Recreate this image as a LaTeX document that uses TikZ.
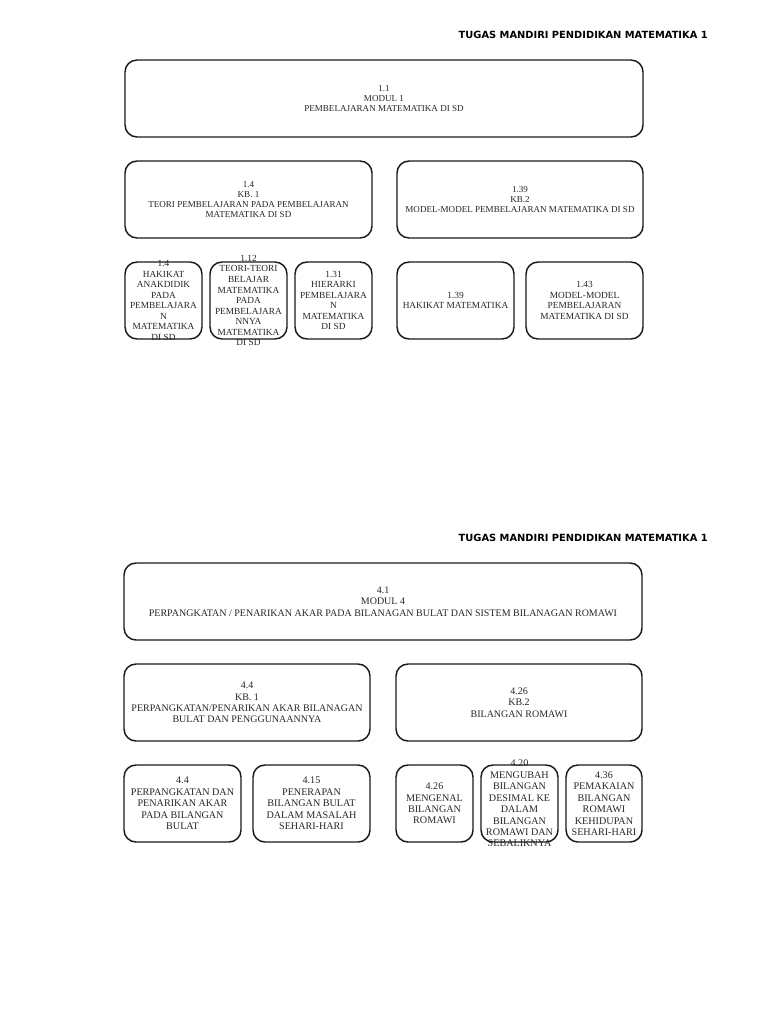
\documentclass[tikz,border=0pt]{standalone}
\usepackage{fontspec}
\setmainfont{Liberation Serif}
\newfontfamily\hdfont{DejaVu Sans}
\usetikzlibrary{fit}
\tikzset{bx/.style={draw=black!90,line width=1.1pt,rounded corners=9pt,inner sep=0pt},
 big/.style={align=center,text=black!85,font=\fontsize{6.8}{7.5}\selectfont,inner sep=0pt},
 bigb/.style={big,font=\fontsize{7.5}{8.5}\selectfont},
 sm/.style={align=center,text=black!85,font=\fontsize{7}{7.9}\selectfont,inner sep=0pt},
 smb/.style={sm,font=\fontsize{7.6}{8.6}\selectfont},
 hd/.style={anchor=east,font=\hdfont\bfseries\fontsize{7.4}{8}\selectfont,inner sep=0pt}}
\begin{document}
\begin{tikzpicture}[x=0.75pt,y=-0.75pt]
\useasboundingbox (0,0) rectangle (768,1024);
% modul 1
\node[hd](h1) at (708,35){TUGAS MANDIRI PENDIDIKAN MATEMATIKA 1};
\node[bx,fit={(125,60)(643,137)}](m1){};
\node[big] at (m1.center){1.1\\MODUL 1\\PEMBELAJARAN MATEMATIKA DI SD};
\node[bx,fit={(125,161)(372,238)}](k1){};
\node[big] at (k1.center){1.4\\KB. 1\\TEORI PEMBELAJARAN PADA PEMBELAJARAN\\MATEMATIKA DI SD};
\node[bx,fit={(397,161)(643,238)}](k2){};
\node[big] at (k2.center){1.39\\KB.2\\MODEL-MODEL PEMBELAJARAN MATEMATIKA DI SD};
\node[bx,fit={(125,262)(202,339)}](a1){};
\node[sm] at (a1.center){1.4\\HAKIKAT\\ANAKDIDIK\\PADA\\PEMBELAJARA\\N\\MATEMATIKA\\DI SD};
\node[bx,fit={(210,262)(287,339)}](a2){};
\node[sm] at (a2.center){1.12\\TEORI-TEORI\\BELAJAR\\MATEMATIKA\\PADA\\PEMBELAJARA\\NNYA\\MATEMATIKA\\DI SD};
\node[bx,fit={(295,262)(372,339)}](a3){};
\node[sm] at (a3.center){1.31\\HIERARKI\\PEMBELAJARA\\N\\MATEMATIKA\\DI SD};
\node[bx,fit={(397,262)(514,339)}](b1){};
\node[sm] at (b1.center){1.39\\HAKIKAT MATEMATIKA};
\node[bx,fit={(526,262)(643,339)}](b2){};
\node[sm] at (b2.center){1.43\\MODEL-MODEL\\PEMBELAJARAN\\MATEMATIKA DI SD};
% modul 4
\node[hd](h4) at (708,538){TUGAS MANDIRI PENDIDIKAN MATEMATIKA 1};
\node[bx,fit={(124,563)(642,640)}](m4){};
\node[bigb] at (m4.center){4.1\\MODUL 4\\PERPANGKATAN / PENARIKAN AKAR PADA BILANAGAN BULAT DAN SISTEM BILANAGAN ROMAWI};
\node[bx,fit={(124,664)(370,741)}](k3){};
\node[bigb] at (k3.center){4.4\\KB. 1\\PERPANGKATAN/PENARIKAN AKAR BILANAGAN\\BULAT DAN PENGGUNAANNYA};
\node[bx,fit={(396,664)(642,741)}](k4){};
\node[bigb] at (k4.center){4.26\\KB.2\\BILANGAN ROMAWI};
\node[bx,fit={(124,765)(241,842)}](c1){};
\node[smb] at (c1.center){4.4\\PERPANGKATAN DAN\\PENARIKAN AKAR\\PADA BILANGAN\\BULAT};
\node[bx,fit={(253,765)(370,842)}](c2){};
\node[smb] at (c2.center){4.15\\PENERAPAN\\BILANGAN BULAT\\DALAM MASALAH\\SEHARI-HARI};
\node[bx,fit={(396,765)(473,842)}](d1){};
\node[smb] at (d1.center){4.26\\MENGENAL\\BILANGAN\\ROMAWI};
\node[bx,fit={(481,765)(558,842)}](d2){};
\node[smb] at (d2.center){4.20\\MENGUBAH\\BILANGAN\\DESIMAL KE\\DALAM\\BILANGAN\\ROMAWI DAN\\SEBALIKNYA};
\node[bx,fit={(566,765)(642,842)}](d3){};
\node[smb] at (d3.center){4.36\\PEMAKAIAN\\BILANGAN\\ROMAWI\\KEHIDUPAN\\SEHARI-HARI};
\end{tikzpicture}
\end{document}
